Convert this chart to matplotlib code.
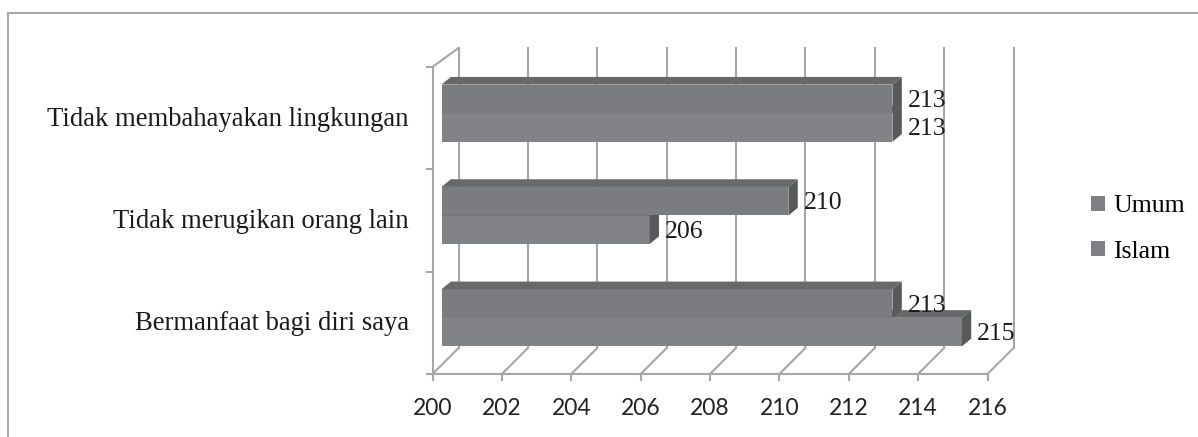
import matplotlib.pyplot as plt
from matplotlib.lines import Line2D
from matplotlib.patches import Polygon, Rectangle

categories = ["Bermanfaat bagi diri saya", "Tidak merugikan orang lain", "Tidak membahayakan lingkungan"]
umum = [213, 210, 213]
islam = [215, 206, 213]
x_ticks = [200, 202, 204, 206, 208, 210, 212, 214, 216]

grid_color = "#a6a6a6"
front_colors = {"Umum": "#7b7c80", "Islam": "#828387"}
top_color = "#68686a"
side_color = "#58595b"

# 3d box geometry in data units
wall_dx = 0.75
wall_top = 3.186
wall_bottom = 0.254
bar_shift = 0.26
bar_height = 0.279
bar_split = 0.049
depth_dx = 0.27
depth_dy = 0.075

fig = plt.figure(figsize=(11.98, 4.37), dpi=100)
ax = fig.add_axes([432.5 / 1198, 63 / 437, 555 / 1198, 307 / 437])
ax.set_xlim(200, 216)
ax.set_ylim(0, 3)

# back wall and floor
for v in x_ticks:
    ax.plot([v + wall_dx, v + wall_dx], [wall_bottom, wall_top], color=grid_color, lw=1.5, clip_on=False, zorder=1)
    ax.plot([v, v + wall_dx], [0, wall_bottom], color=grid_color, lw=1.5, clip_on=False, zorder=1)
ax.plot([200, 200 + wall_dx], [3, wall_top], color=grid_color, lw=1.5, clip_on=False, zorder=1)


def draw_bar(y0, value, color):
    x0 = 200 + bar_shift
    x1 = value + bar_shift
    y1 = y0 + bar_height
    ax.add_patch(Rectangle((x0, y0), x1 - x0, bar_height, facecolor=color, edgecolor="none", zorder=3))
    ax.add_patch(Polygon([(x0, y1), (x1, y1), (x1 + depth_dx, y1 + depth_dy), (x0 + depth_dx, y1 + depth_dy)],
                         facecolor=top_color, edgecolor="none", zorder=3, clip_on=False))
    ax.add_patch(Polygon([(x1, y0), (x1, y1), (x1 + depth_dx, y1 + depth_dy), (x1 + depth_dx, y0 + depth_dy)],
                         facecolor=side_color, edgecolor="none", zorder=3, clip_on=False))
    ax.text(x1 + depth_dx + 0.17, y0 + bar_height / 2 - 0.02, str(value), family="Liberation Serif",
            fontsize=18.5, va="center", ha="left", color="#1a1a1a", zorder=4)


for i in range(len(categories)):
    center = i + 0.5 + bar_split
    draw_bar(center - bar_height, islam[i], front_colors["Islam"])
    draw_bar(center, umum[i], front_colors["Umum"])

for side in ["top", "right"]:
    ax.spines[side].set_visible(False)
for side in ["bottom", "left"]:
    ax.spines[side].set_color(grid_color)
    ax.spines[side].set_linewidth(1.5)

ax.set_xticks(x_ticks)
ax.set_xticklabels([str(v) for v in x_ticks], family="Lato", fontsize=16.5, color="#222222")
ax.tick_params(axis="x", direction="out", length=5, width=1.5, color=grid_color, pad=12)
ax.set_yticks([0, 1, 2, 3])
ax.set_yticklabels([])
ax.tick_params(axis="y", which="major", direction="out", length=5, width=1.5, color=grid_color)
ax.set_yticks([0.52, 1.52, 2.52], minor=True)
ax.set_yticklabels(categories, minor=True, family="Liberation Serif", fontsize=19.2, color="#1a1a1a")
ax.tick_params(axis="y", which="minor", length=0, pad=17)

handles = [Rectangle((0, 0), 1, 1, facecolor="#808084"), Rectangle((0, 0), 1, 1, facecolor="#808084")]
fig.legend(handles, ["Umum", "Islam"], loc="center left", bbox_to_anchor=(1068 / 1198, 1 - 229 / 437),
           frameon=False, prop={"family": "Liberation Serif", "size": 18.5},
           handlelength=0.55, handleheight=0.55, handletextpad=0.3, labelspacing=0.9)

# outer chart border
border_y = 1 - 13 / 437
border_x = 8 / 1198
fig.add_artist(Line2D([border_x, 1], [border_y, border_y], color="#a8a8a8", lw=1.5))
fig.add_artist(Line2D([border_x, border_x], [0, border_y], color="#a8a8a8", lw=1.5))

fig.savefig("out.png", dpi=100)
